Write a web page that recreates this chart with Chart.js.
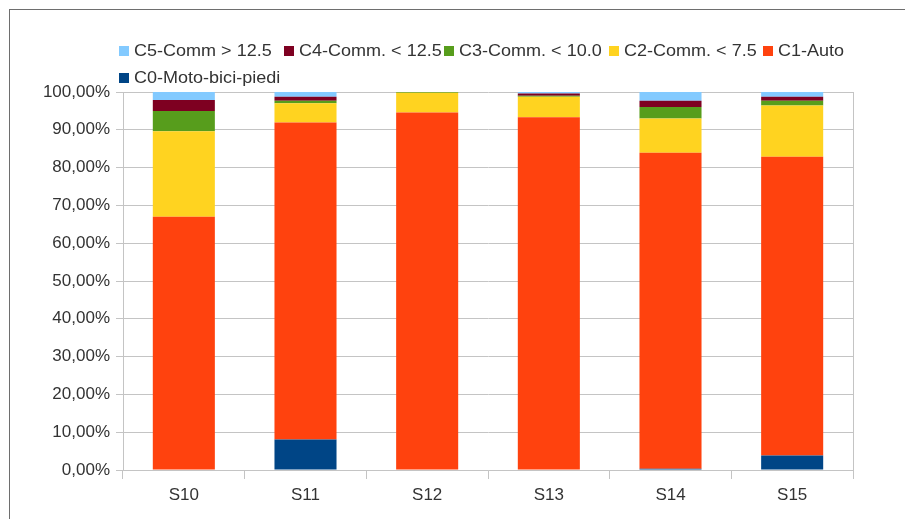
<!DOCTYPE html>
<html>
<head>
<meta charset="utf-8">
<script src="https://cdn.jsdelivr.net/npm/chart.js@4/dist/chart.umd.min.js"></script>
<style>
  html, body { margin: 0; padding: 0; background: #fff; }
  #wrap { position: relative; width: 905px; height: 519px; overflow: hidden; }
  #frame { position: absolute; left: 9px; top: 9px; width: 1000px; height: 1000px;
           border-left: 1px solid #6e6e6e; border-top: 1px solid #6e6e6e; }
  #chart { position: absolute; left: 0; top: 0; }
  .lg { position: absolute; height: 20px; display: flex; align-items: center; white-space: nowrap;
        font: 17px "Liberation Sans", Arial, sans-serif; color: #333; }
  .lg i { display: inline-block; width: 10px; height: 10px; margin-right: 5px; }
  .lg span { display: inline-block; transform: scaleX(1.06); transform-origin: left center; }
</style>
</head>
<body>
<div id="wrap">
  <div id="frame"></div>
  <canvas id="chart" width="905" height="519"></canvas>
</div>
<script>
// Sites and the share (%) of trips in each class
const categories = ['S10', 'S11', 'S12', 'S13', 'S14', 'S15'];
const seriesNames = ['C0-Moto-bici-piedi', 'C1-Auto', 'C2-Comm. < 7.5', 'C3-Comm. < 10.0', 'C4-Comm. < 12.5', 'C5-Comm > 12.5'];
const c0 = [0, 8.1, 0, 0, 0.3, 3.85];
const c1 = [67.0, 83.8, 94.6, 93.3, 83.6, 79.05];
const c2 = [22.6, 5.1, 5.2, 5.45, 9.1, 13.5];
const c3 = [5.4, 0.7, 0.2, 0.25, 3.0, 1.3];
const c4 = [2.9, 1.05, 0, 0.6, 1.7, 1.05];
const c5 = [2.1, 1.25, 0, 0.4, 2.3, 1.25];
const yTicks = [0, 10, 20, 30, 40, 50, 60, 70, 80, 90, 100];

const colors = ['#004586', '#ff420e', '#ffd320', '#579d1c', '#7e0021', '#83caff'];
const values = [c0, c1, c2, c3, c4, c5];

const datasets = values.map((v, i) => ({
  label: seriesNames[i],
  data: v,
  backgroundColor: colors[i],
  borderWidth: 0,
  categoryPercentage: 1,
  barPercentage: 0.51
}));

// HTML legend, listed top series first
const legendSpots = [[119, 41], [284, 41], [444, 41], [609, 41], [763, 41], [119, 68]];
const wrap = document.getElementById('wrap');
for (let k = 0; k < seriesNames.length; k++) {
  const i = seriesNames.length - 1 - k;
  const el = document.createElement('div');
  el.className = 'lg';
  el.style.left = legendSpots[k][0] + 'px';
  el.style.top = legendSpots[k][1] + 'px';
  el.innerHTML = '<i style="background:' + colors[i] + '"></i><span></span>';
  el.querySelector('span').textContent = seriesNames[i];
  wrap.appendChild(el);
}

// right-hand edge of the plot area
const plotEdge = {
  id: 'plotEdge',
  afterDraw(chart) {
    const { ctx, chartArea } = chart;
    ctx.save();
    ctx.strokeStyle = '#c4c4c4';
    ctx.lineWidth = 1;
    ctx.beginPath();
    ctx.moveTo(Math.round(chartArea.right) + 0.5, chartArea.top);
    ctx.lineTo(Math.round(chartArea.right) + 0.5, chartArea.bottom);
    ctx.stroke();
    ctx.restore();
  }
};

const tickFont = { family: '"Liberation Sans", Arial, sans-serif', size: 17 };

new Chart(document.getElementById('chart'), {
  type: 'bar',
  data: { labels: categories, datasets },
  options: {
    responsive: false,
    animation: false,
    layout: { padding: { left: 0, right: 52, top: 92, bottom: 0 } },
    plugins: { legend: { display: false }, tooltip: { enabled: false } },
    scales: {
      x: {
        stacked: true,
        grid: { offset: true, drawOnChartArea: false, tickLength: 9, color: '#c4c4c4' },
        border: { color: '#c4c4c4' },
        ticks: { font: tickFont, color: '#333', padding: 6 },
        afterFit(scale) { scale.height = 49; }
      },
      y: {
        stacked: true,
        min: 0,
        max: 100,
        afterBuildTicks(scale) { scale.ticks = yTicks.map(v => ({ value: v })); },
        grid: { color: '#c4c4c4', tickLength: 7 },
        border: { color: '#c4c4c4' },
        ticks: {
          font: tickFont,
          color: '#333',
          padding: 6,
          callback: v => v.toFixed(2).replace('.', ',') + '%'
        },
        afterFit(scale) { scale.width = 123; }
      }
    }
  },
  plugins: [plotEdge]
});
</script>
</body>
</html>
